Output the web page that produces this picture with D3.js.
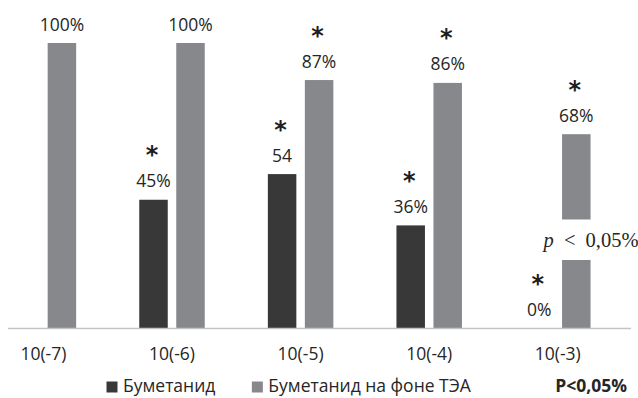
<!DOCTYPE html>
<html><head><meta charset="utf-8">
<script src="https://cdn.jsdelivr.net/npm/d3@7"></script>
<style>
html,body{margin:0;padding:0;background:#fff;}
svg{display:block;}
</style></head>
<body>
<svg id="chart" width="638" height="398"></svg>
<script>
// ---- data ----
const categories = ["10(-7)", "10(-6)", "10(-5)", "10(-4)", "10(-3)"];
const seriesNames = ["Буметанид", "Буметанид на фоне ТЭА"];
const bumetanide = [null, 45, 54, 36, 0];
const bumetanideTEA = [100, 100, 87, 86, 68];
const bumetanideLabels = [null, "45%", "54", "36%", "0%"];
const bumetanideTEALabels = ["100%", "100%", "87%", "86%", "68%"];
const bumetanideStar = [false, true, true, true, true];
const bumetanideTEAStar = [false, false, true, true, true];
const noteText = "P<0,05%";
const pNote = "< 0,05%";

// ---- layout ----
const W = 638, H = 398;
const svg = d3.select("#chart");
const font = "'Open Sans', sans-serif";
const textColor = "#262626";
const colors = ["#383838", "#87888c"];

const x = d3.scaleBand().domain(categories).range([-20.9, 622.1]);
const step = x.bandwidth();
const xs = d3.scaleBand().domain(seriesNames)
  .range([step / 2 - 32.75, step / 2 + 32.75]).paddingInner(0.23);
const y = d3.scaleLinear().domain([0, 100]).range([328, 43]);

const rows = [];
categories.forEach((c, i) => {
  rows.push({cat: c, s: seriesNames[0], v: bumetanide[i], lab: bumetanideLabels[i], star: bumetanideStar[i]});
  rows.push({cat: c, s: seriesNames[1], v: bumetanideTEA[i], lab: bumetanideTEALabels[i], star: bumetanideTEAStar[i]});
});
const present = rows.filter(d => d.v !== null);

// bars
svg.append("g").selectAll("rect").data(present).join("rect")
  .attr("x", d => x(d.cat) + xs(d.s))
  .attr("width", xs.bandwidth())
  .attr("y", d => y(d.v))
  .attr("height", d => y(0) - y(d.v))
  .attr("fill", d => colors[seriesNames.indexOf(d.s)]);

// axis line
svg.append("line").attr("x1", 8).attr("x2", 631)
  .attr("y1", y(0) + 0.5).attr("y2", y(0) + 0.5)
  .attr("stroke", "#c4c4c4").attr("stroke-width", 1.5);

// value labels
const cx = d => x(d.cat) + xs(d.s) + xs.bandwidth() / 2;
svg.append("g").selectAll("text").data(present).join("text")
  .attr("x", cx).attr("y", d => y(d.v) - 12.5)
  .attr("text-anchor", "middle")
  .attr("font-family", font).attr("font-size", 17.5)
  .attr("fill", textColor)
  .text(d => d.lab);

// stars
svg.append("g").selectAll("text").data(present.filter(d => d.star)).join("text")
  .attr("x", d => cx(d) - 1.5).attr("y", d => y(d.v) - 12.5 - 24)
  .attr("text-anchor", "middle")
  .attr("font-family", "'DejaVu Sans', sans-serif").attr("font-weight", "bold")
  .attr("font-size", 24)
  .attr("fill", "#1e1e1e")
  .text("*");

// p note (white box over last gray bar)
const last = categories[categories.length - 1];
const px = x(last) + xs(seriesNames[1]) - 18.5;
svg.append("rect").attr("x", px - 3).attr("y", 219.5).attr("width", W - px + 3).attr("height", 40.5).attr("fill", "#fff");
const pt = svg.append("text").attr("x", px).attr("y", 246.5)
  .attr("font-family", "'Liberation Serif', 'Times New Roman', serif")
  .attr("font-size", 20.5).attr("fill", textColor)
  .attr("word-spacing", 5);
pt.append("tspan").attr("font-style", "italic").text("p");
pt.append("tspan").text(" " + pNote);

// category labels
svg.append("g").selectAll("text").data(categories).join("text")
  .attr("x", d => x(d) + step / 2).attr("y", 360)
  .attr("text-anchor", "middle")
  .attr("font-family", font).attr("font-size", 17.5)
  .attr("fill", textColor)
  .text(d => d);

// legend
const lg = svg.append("g");
let lx = 106.5;
seriesNames.forEach((n, i) => {
  lg.append("rect").attr("x", lx).attr("y", 381.5).attr("width", 11).attr("height", 11).attr("fill", colors[i]);
  const t = lg.append("text").attr("x", lx + 16.5).attr("y", 392)
    .attr("font-family", font).attr("font-size", 17.5).attr("fill", textColor).text(n);
  lx += 16.5 + t.node().getComputedTextLength() + 36.5;
});
lg.append("text").attr("x", 627).attr("y", 392).attr("text-anchor", "end")
  .attr("font-family", font).attr("font-weight", "bold").attr("font-size", 17.5)
  .attr("fill", textColor).text(noteText);
</script>
</body></html>
